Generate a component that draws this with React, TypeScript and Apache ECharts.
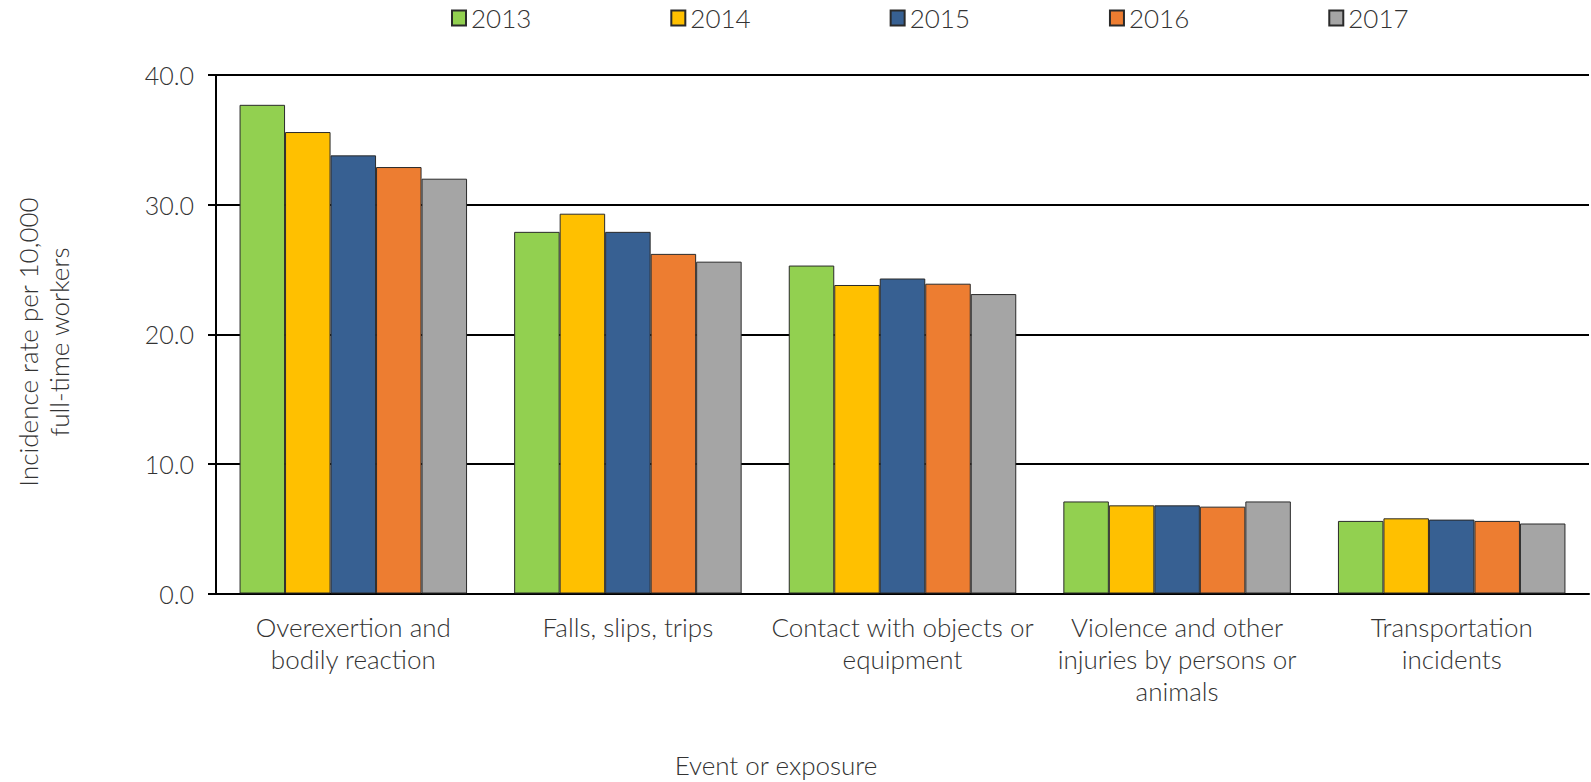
import React, { useEffect, useRef } from "react";
import * as echarts from "echarts";

const categories = [
  "Overexertion and\nbodily reaction",
  "Falls, slips, trips",
  "Contact with objects or\nequipment",
  "Violence and other\ninjuries by persons or\nanimals",
  "Transportation\nincidents",
];
const years = ["2013", "2014", "2015", "2016", "2017"];
const values2013 = [37.7, 27.9, 25.3, 7.1, 5.6];
const values2014 = [35.6, 29.3, 23.8, 6.8, 5.8];
const values2015 = [33.8, 27.9, 24.3, 6.8, 5.7];
const values2016 = [32.9, 26.2, 23.9, 6.7, 5.6];
const values2017 = [32.0, 25.6, 23.1, 7.1, 5.4];
const yTicks = { min: 0, max: 40, interval: 10 };
const yTitle = "Incidence rate per 10,000\nfull-time workers";
const xTitle = "Event or exposure";

const colors = ["#92D050", "#FFC000", "#376092", "#ED7D31", "#A5A5A5"];
const FONT = "Lato";
const TEXT = "#333333";
const FS = 26;

export default function App() {
  const ref = useRef<HTMLDivElement>(null);
  useEffect(() => {
    if (!ref.current) return;
    const chart = echarts.init(ref.current, null, { renderer: "svg" });
    const all = [values2013, values2014, values2015, values2016, values2017];
    chart.setOption({
      animation: false,
      textStyle: { fontFamily: FONT, fontWeight: 300, color: TEXT },
      legend: {
        data: years,
        left: 446,
        top: 0,
        itemWidth: 14,
        itemHeight: 15,
        itemGap: 139,
        icon: "rect",
        textStyle: { fontFamily: FONT, fontWeight: 300, fontSize: FS, color: TEXT, width: 60 },
      },
      grid: { left: 216, right: 2, top: 75, bottom: 188.5, containLabel: false },
      xAxis: {
        type: "category",
        data: categories,
        axisLine: { lineStyle: { color: "#000", width: 2 } },
        axisTick: { show: false },
        axisLabel: {
          interval: 0,
          margin: 17,
          fontFamily: FONT,
          fontWeight: 300,
          fontSize: FS,
          lineHeight: 32,
          color: TEXT,
          align: "center",
        },
      },
      yAxis: {
        type: "value",
        min: yTicks.min,
        max: yTicks.max,
        interval: yTicks.interval,
        axisLine: { show: true, lineStyle: { color: "#000", width: 2 } },
        axisTick: { show: true, length: 8, lineStyle: { color: "#000", width: 2 } },
        splitLine: { lineStyle: { color: "#000", width: 2 } },
        axisLabel: {
          margin: 22,
          fontFamily: FONT,
          fontWeight: 300,
          fontSize: 25,
          color: TEXT,
          formatter: (v: number) => v.toFixed(1),
        },
      },
      graphic: [
        {
          type: "text",
          x: 43,
          y: 342,
          rotation: Math.PI / 2,
          style: {
            text: yTitle,
            fontFamily: FONT,
            fontWeight: 300,
            fontSize: FS,
            lineHeight: 31,
            fill: TEXT,
            align: "center",
            verticalAlign: "middle",
          },
        },
        {
          type: "text",
          x: 776,
          y: 765,
          style: {
            text: xTitle,
            fontFamily: FONT,
            fontWeight: 300,
            fontSize: FS,
            fill: TEXT,
            align: "center",
            verticalAlign: "middle",
          },
        },
      ],
      series: years.map((y, i) => ({
        name: y,
        type: "bar",
        data: all[i],
        barWidth: 45.5,
        barGap: "0%",
        itemStyle: { color: colors[i], borderColor: "#2a2a2a", borderWidth: 1 },
      })),
    });
    return () => chart.dispose();
  }, []);
  return (
    <div
      ref={ref}
      style={{ position: "fixed", left: 0, top: 0, width: 1591, height: 782, background: "#fff" }}
    />
  );
}
